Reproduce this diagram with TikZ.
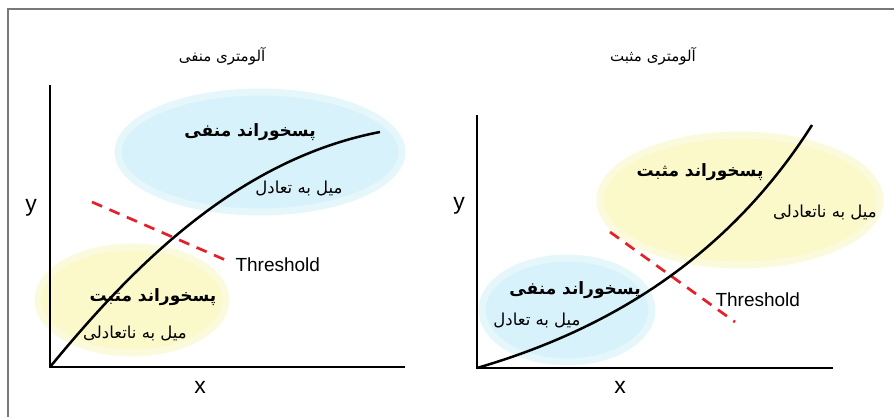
\documentclass[tikz,border=0pt]{standalone}
\usepackage{fontspec}
\setmainfont{Liberation Sans}
\newfontfamily\farsi[Script=Arabic]{DejaVu Sans}
\TeXXeTstate=1
\usetikzlibrary{shapes.geometric}
\definecolor{figBlue}{RGB}{216,242,251}
\definecolor{figYel}{RGB}{251,248,202}
\definecolor{figRed}{RGB}{228,32,40}
\definecolor{figFrame}{RGB}{120,120,120}
\newcommand{\fa}[1]{{\farsi\beginR #1\endR}}

\begin{document}
\begin{tikzpicture}[x=1pt,y=-1pt,
  blob/.style={ellipse,inner sep=0pt,line width=7pt},
  negblob/.style={blob,fill=figBlue,draw=figBlue!65},
  posblob/.style={blob,fill=figYel,draw=figYel!65},
  axis/.style={line width=2.7pt},
  curve/.style={line width=2.5pt},
  thr/.style={figRed,line width=2.7pt,dash pattern=on 11pt off 8pt},
  title/.style={font=\fontsize{15}{17}\selectfont},
  lbl/.style={font=\fontsize{16.5}{18}\selectfont},
  head/.style={font=\fontsize{17}{19}\selectfont\bfseries},
  axlbl/.style={font=\fontsize{23}{25}\selectfont},
  thlbl/.style={font=\fontsize{19}{21}\selectfont,anchor=west}]
\useasboundingbox (0,0) rectangle (894,417);
% frame
\coordinate (f1) at (8,417); \coordinate (f2) at (8,9); \coordinate (f3) at (894,9);
\draw[figFrame,line width=1.4pt] (f1) -- (f2) -- (f3);
% left panel: negative allometry
\node[title] (tL) at (222,56) {\fa{آلومتری منفی}};
\node[negblob,minimum width=284,minimum height=120] (negL) at (260,152) {};
\node[posblob,minimum width=188,minimum height=106] (posL) at (132,300) {};
\node[head] (negLh) at (250,132) {\fa{پسخوراند منفی}};
\node[lbl] (negLt) at (299,188) {\fa{میل به تعادل}};
\node[head] (posLh) at (153,297) {\fa{پسخوراند مثبت}};
\node[lbl] (posLt) at (135,333) {\fa{میل به ناتعادلی}};
\coordinate (thL1) at (92,202); \coordinate (thL2) at (230,262);
\draw[thr] (thL1) -- (thL2);
\node[thlbl] (thL) at (232,265) {Threshold};
\coordinate (oL) at (50,367); \coordinate (yL) at (50,85); \coordinate (xL) at (405,367);
\draw[axis] (yL) -- (oL) -- (xL);
\coordinate (cL) at (380,132);
\draw[curve] (oL) .. controls (130,270) and (235,160) .. (cL);
\node[axlbl] (yLl) at (31,208) {y};
\node[axlbl] (xLl) at (200,387) {x};
% right panel: positive allometry
\node[title] (tR) at (653,56) {\fa{آلومتری مثبت}};
\node[posblob,minimum width=280,minimum height=130] (posR) at (740,200) {};
\node[negblob,minimum width=170,minimum height=104] (negR) at (567,310) {};
\node[head] (posRh) at (700,172) {\fa{پسخوراند مثبت}};
\node[lbl] (posRt) at (825,212) {\fa{میل به ناتعادلی}};
\node[head] (negRh) at (575,290) {\fa{پسخوراند منفی}};
\node[lbl] (negRt) at (537,320) {\fa{میل به تعادل}};
\coordinate (thR1) at (610,232); \coordinate (thR2) at (735,322);
\draw[thr] (thR1) -- (thR2);
\node[thlbl] (thR) at (712,300) {Threshold};
\coordinate (oR) at (477,368); \coordinate (yR) at (477,115); \coordinate (xR) at (833,368);
\draw[axis] (yR) -- (oR) -- (xR);
\coordinate (cR) at (812,125);
\draw[curve] (oR) .. controls (590,335) and (720,270) .. (cR);
\node[axlbl] (yRl) at (459,206) {y};
\node[axlbl] (xRl) at (620,387) {x};
\end{tikzpicture}
\end{document}
